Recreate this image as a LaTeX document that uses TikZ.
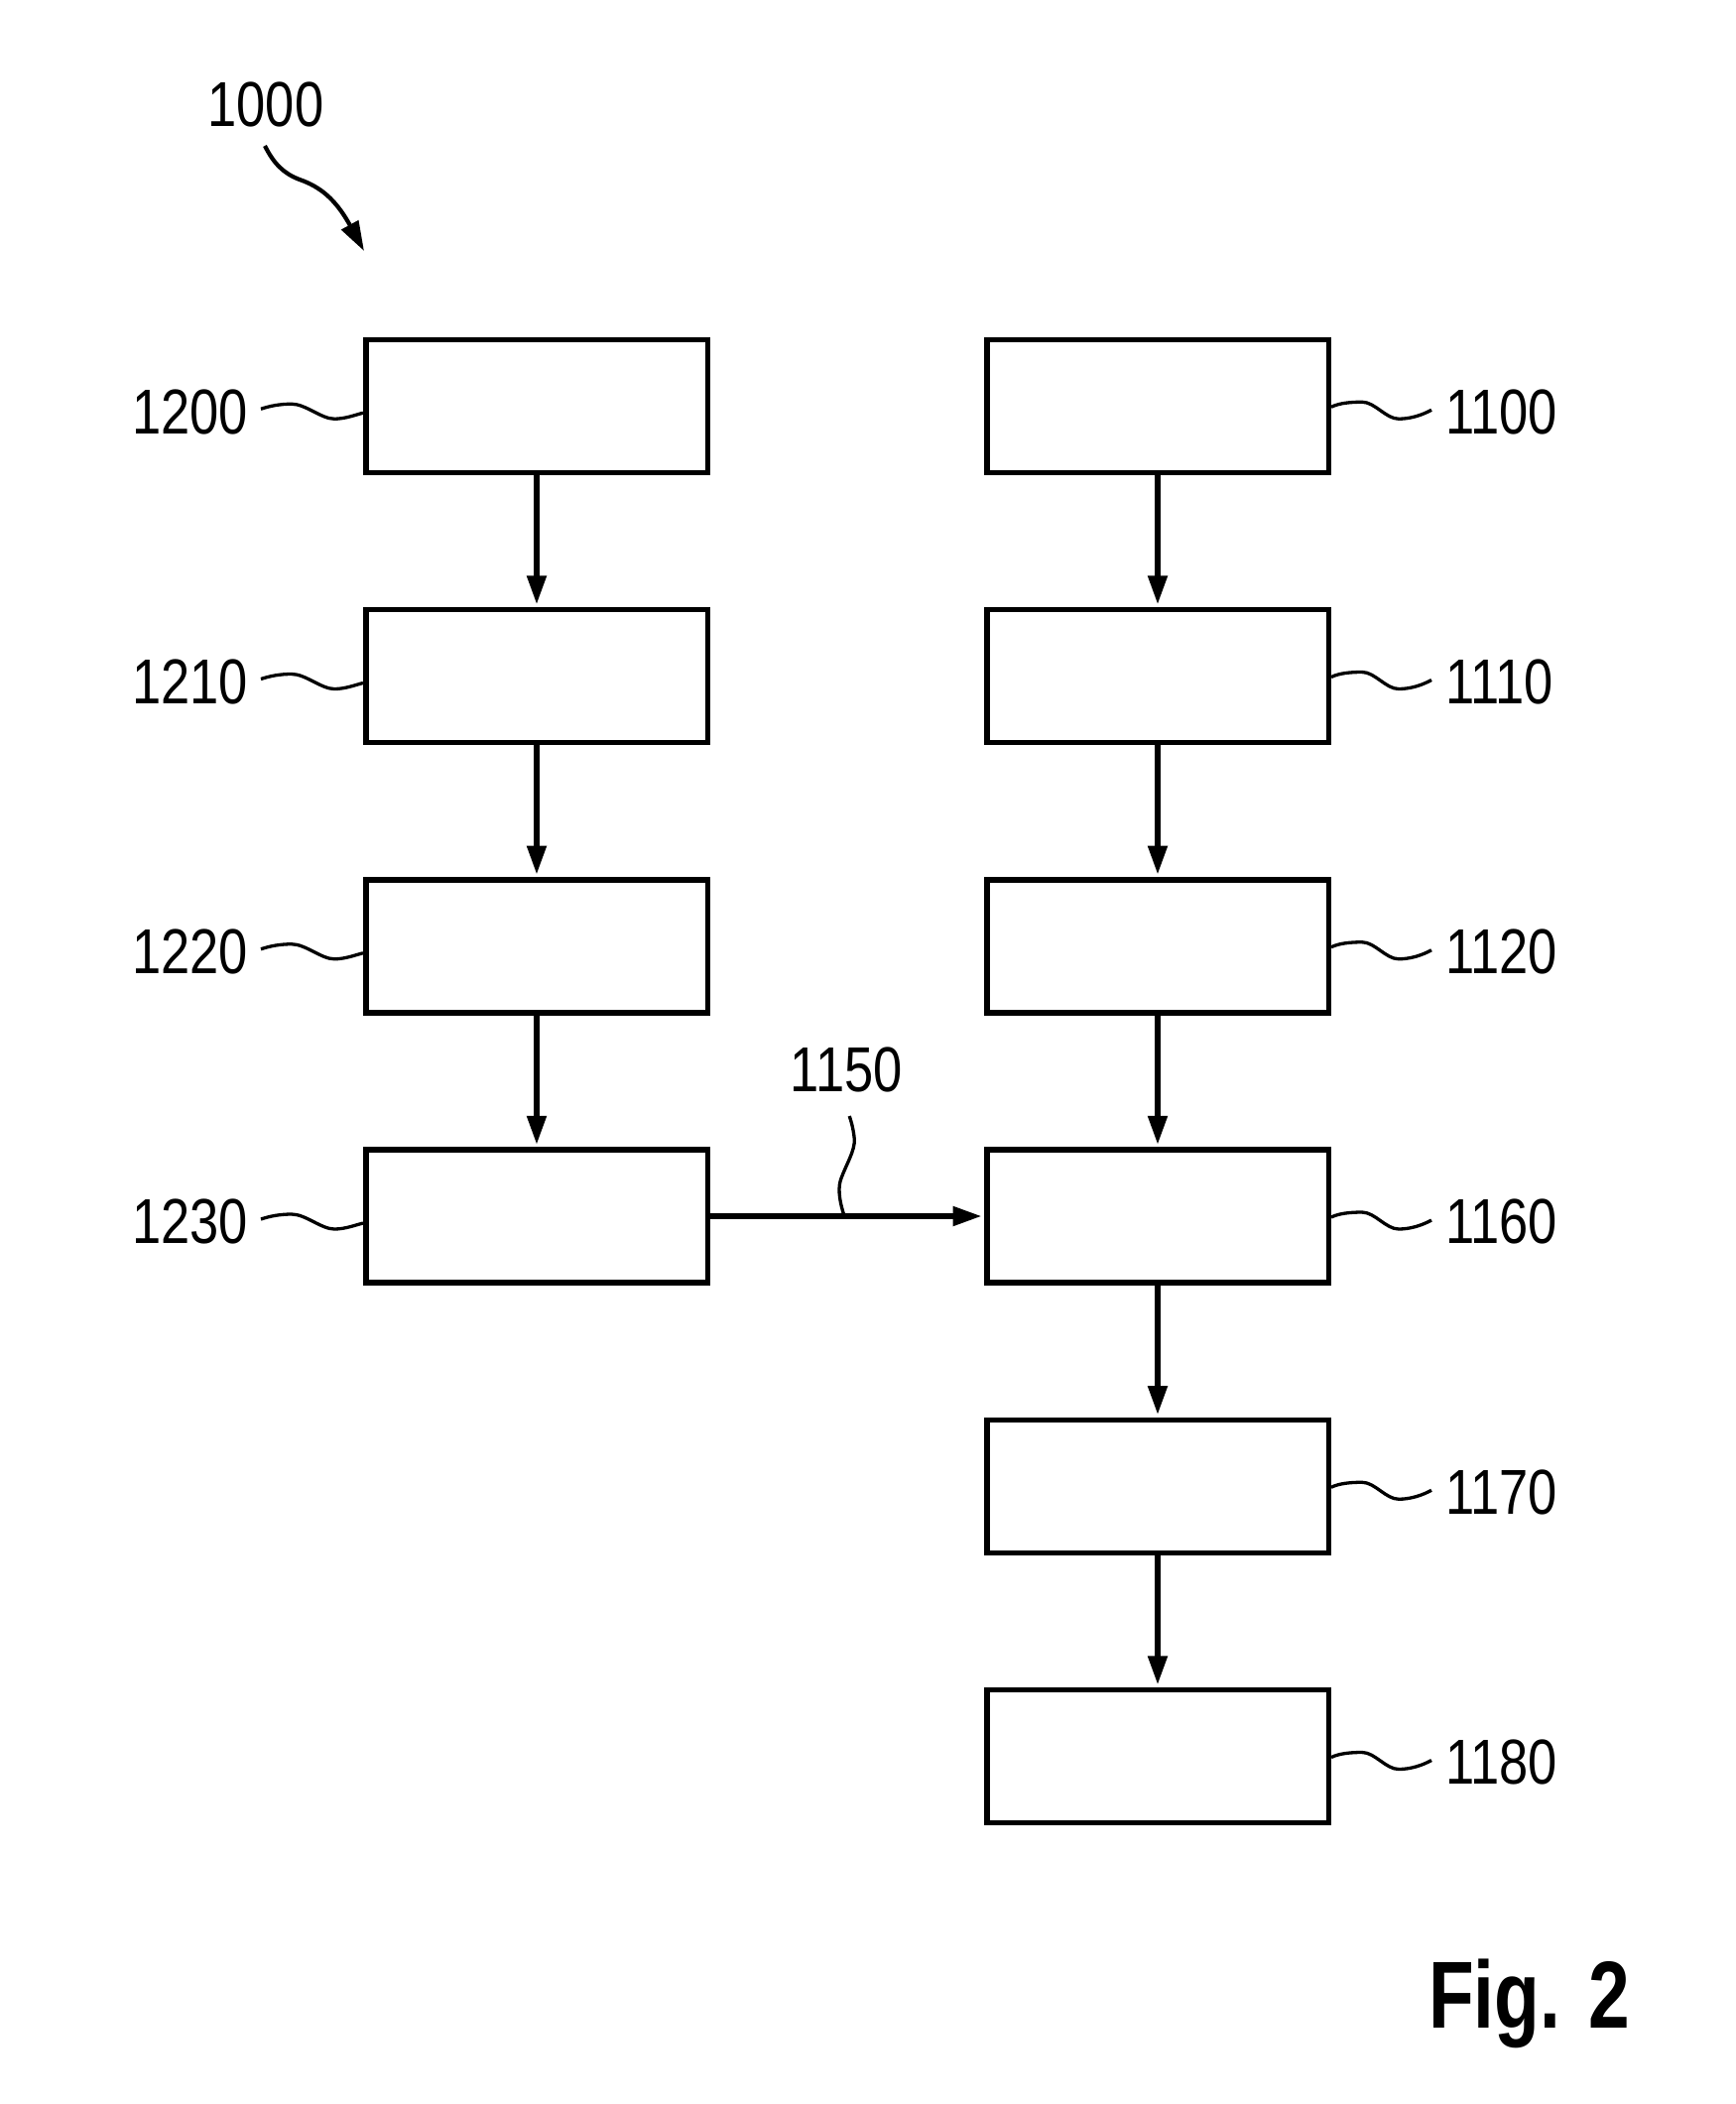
\documentclass[tikz,border=0pt]{standalone}
\usepackage{fontspec}
\setmainfont{Liberation Sans}
\newfontfamily\lblfont[FakeStretch=0.82]{Liberation Sans}
\newfontfamily\figfont[FakeStretch=0.78]{Liberation Sans}
\usetikzlibrary{arrows.meta,calc}
\newcommand\leadleft[1]{%
  \begin{scope}[shift={(#1.west)}]
    \draw[lead] (0,7) .. controls (-8,9) and (-18,13) .. (-29,13)
      .. controls (-42,13) and (-58,-2) .. (-72,-2)
      .. controls (-84,-2) and (-94,0) .. (-103,3);
  \end{scope}}
\newcommand\leadright[1]{%
  \begin{scope}[shift={(#1.east)}]
    \draw[lead] (0,1) .. controls (8,-3) and (20,-4) .. (31,-4)
      .. controls (44,-4) and (55,13) .. (68,13)
      .. controls (80,13) and (92,9) .. (101,4);
  \end{scope}}
\begin{document}
\begin{tikzpicture}[x=1pt,y=-1pt,
  box/.style={draw, line width=5.5pt, minimum width=344.5pt, minimum height=134pt, inner sep=0pt},
  flow/.style={line width=5.3pt, -{Triangle[length=29pt,width=19pt]}, shorten >=2.5pt},
  lead/.style={line width=3.3pt},
  lbl/.style={font=\lblfont\fontsize{64}{64}\selectfont, inner sep=0pt},
  figlbl/.style={font=\figfont\bfseries\fontsize{96}{96}\selectfont, inner sep=0pt}]
\useasboundingbox[fill=white] (0,0) rectangle (1749,2121);

% left column
\node[box] (b1200) at (541,409.25) {};
\node[box] (b1210) at (541,681.5) {};
\node[box] (b1220) at (541,953.75) {};
\node[box] (b1230) at (541,1226) {};
% right column
\node[box] (b1100) at (1167,409.25) {};
\node[box] (b1110) at (1167,681.5) {};
\node[box] (b1120) at (1167,953.75) {};
\node[box] (b1160) at (1167,1226) {};
\node[box] (b1170) at (1167,1498.25) {};
\node[box] (b1180) at (1167,1770.5) {};

% flow arrows
\draw[flow] (b1200) -- (b1210);
\draw[flow] (b1210) -- (b1220);
\draw[flow] (b1220) -- (b1230);
\draw[flow] (b1100) -- (b1110);
\draw[flow] (b1110) -- (b1120);
\draw[flow] (b1120) -- (b1160);
\draw[flow] (b1160) -- (b1170);
\draw[flow] (b1170) -- (b1180);
\draw[flow] (b1230.east) -- (b1160.west);

% left labels
\foreach \n in {1200,1210,1220,1230}{
  \node[lbl, anchor=base east] (l\n) at ($(b\n.west)+(-116,27.75)$) {\n};
  \leadleft{b\n}
}
% right labels
\foreach \n in {1100,1110,1120,1160,1170,1180}{
  \node[lbl, anchor=base west] (l\n) at ($(b\n.east)+(115,27.75)$) {\n};
  \leadright{b\n}
}

% 1150 label on the horizontal connector
\coordinate (k1150) at ($(b1230.east)!0.49!(b1160.west)$);
\node[lbl, anchor=base] (l1150) at ($(k1150)+(2,-126)$) {1150};
\begin{scope}[shift={(k1150)}]
  \draw[lead] (0,0) .. controls (-4,-11) and (-7,-26) .. (-4,-36)
    .. controls (1,-51) and (11,-66) .. (10,-78)
    .. controls (9,-88) and (7,-95) .. (5,-101);
\end{scope}

% 1000 label and arrow
\node[lbl, anchor=base] (l1000) at (268,127) {1000};
\coordinate (a1000s) at (267,147);
\coordinate (a1000e) at (367,253);
\draw[line width=4.2pt, -{Triangle[length=30pt,width=19pt]}]
  (a1000s) .. controls (276,165) and (286,175) .. (302,181)
  .. controls (322,188) and (338,200) .. (a1000e);

% figure caption
\node[figlbl, anchor=base west] (fig) at (1440,2044) {Fig. 2};
\end{tikzpicture}
\end{document}
